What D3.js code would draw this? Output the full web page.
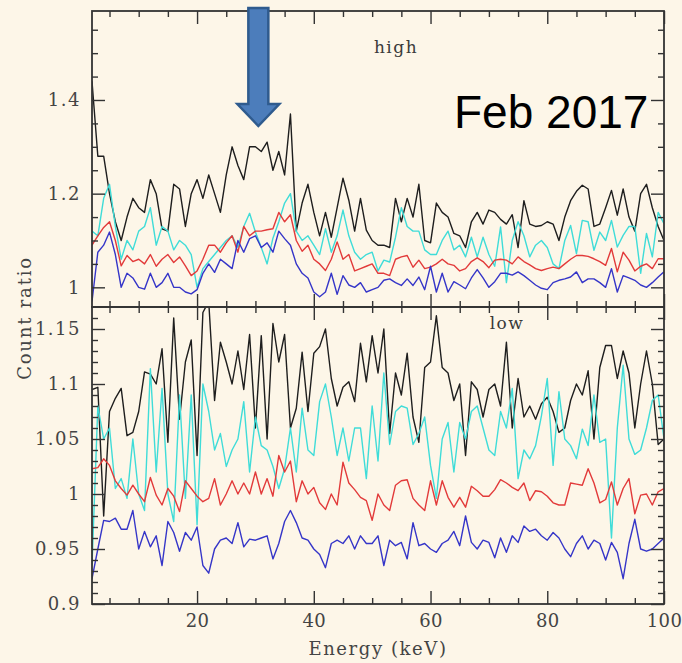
<!DOCTYPE html>
<html>
<head>
<meta charset="utf-8">
<script src="https://cdnjs.cloudflare.com/ajax/libs/d3/7.8.5/d3.min.js"></script>
<style>
  body { margin: 0; background: #fdf6e8; }
  svg { display: block; }
  .tick text { font-family: "DejaVu Serif", serif; font-size: 18px; fill: #444; letter-spacing: 1.5px; }
  .xlab .tick text { letter-spacing: 0.4px; }
  .tick line { stroke-width: 1.4; }
  .domain { display: none; }
</style>
</head>
<body>
<svg width="682" height="663"></svg>
<script>
// Energy grid (keV)
var energy = [2, 3, 4, 5, 6, 7, 8, 9, 10, 11, 12, 13, 14, 15, 16, 17, 18, 19, 20, 21,
    22, 23, 24, 25, 26, 27, 28, 29, 30, 31, 32, 33, 34, 35, 36, 37, 38, 39, 40, 41,
    42, 43, 44, 45, 46, 47, 48, 49, 50, 51, 52, 53, 54, 55, 56, 57, 58, 59, 60, 61,
    62, 63, 64, 65, 66, 67, 68, 69, 70, 71, 72, 73, 74, 75, 76, 77, 78, 79, 80, 81,
    82, 83, 84, 85, 86, 87, 88, 89, 90, 91, 92, 93, 94, 95, 96, 97, 98, 99, 100];

// "high" panel count ratios
var highBlack = [1.44, 1.28, 1.28, 1.20, 1.14, 1.10, 1.15, 1.19, 1.17, 1.16,
    1.23, 1.20, 1.125, 1.12, 1.22, 1.21, 1.13, 1.20, 1.23, 1.19,
    1.24, 1.20, 1.16, 1.24, 1.30, 1.26, 1.23, 1.30, 1.30, 1.29,
    1.31, 1.25, 1.29, 1.24, 1.37, 1.12, 1.18, 1.22, 1.16, 1.11,
    1.16, 1.107, 1.17, 1.233, 1.186, 1.12, 1.19, 1.122, 1.10, 1.09,
    1.09, 1.085, 1.19, 1.14, 1.19, 1.15, 1.22, 1.10, 1.095, 1.18,
    1.16, 1.15, 1.115, 1.11, 1.085, 1.14, 1.16, 1.135, 1.165, 1.16,
    1.145, 1.135, 1.155, 1.085, 1.185, 1.135, 1.13, 1.132, 1.14, 1.135,
    1.10, 1.15, 1.185, 1.205, 1.218, 1.21, 1.13, 1.135, 1.17, 1.207,
    1.154, 1.21, 1.15, 1.12, 1.20, 1.22, 1.17, 1.13, 1.10];
var highCyan = [1.12, 1.11, 1.19, 1.22, 1.13, 1.06, 1.10, 1.08, 1.12, 1.13,
    1.17, 1.09, 1.13, 1.12, 1.08, 1.10, 1.09, 1.07, 1.00, 1.04,
    1.055, 1.07, 1.085, 1.10, 1.11, 1.085, 1.13, 1.158, 1.118, 1.085,
    1.05, 1.105, 1.14, 1.18, 1.20, 1.12, 1.10, 1.11, 1.09, 1.07,
    1.125, 1.075, 1.11, 1.165, 1.11, 1.075, 1.06, 1.07, 1.075, 1.035,
    1.058, 1.054, 1.107, 1.17, 1.13, 1.12, 1.12, 1.08, 1.07, 1.07,
    1.10, 1.12, 1.08, 1.09, 1.065, 1.107, 1.065, 1.107, 1.07, 1.045,
    1.129, 1.01, 1.10, 1.14, 1.11, 1.065, 1.09, 1.10, 1.085, 1.05,
    1.04, 1.10, 1.132, 1.072, 1.143, 1.14, 1.079, 1.118, 1.10, 1.143,
    1.086, 1.111, 1.13, 1.13, 1.03, 1.115, 1.065, 1.16, 1.136];
var highRed = [1.09, 1.11, 1.128, 1.14, 1.10, 1.046, 1.068, 1.055, 1.06, 1.05,
    1.07, 1.045, 1.06, 1.07, 1.053, 1.065, 1.046, 1.025, 1.035, 1.06,
    1.09, 1.09, 1.075, 1.095, 1.11, 1.075, 1.13, 1.11, 1.12, 1.12,
    1.123, 1.125, 1.16, 1.14, 1.155, 1.10, 1.077, 1.09, 1.06, 1.05,
    1.036, 1.06, 1.097, 1.06, 1.07, 1.035, 1.04, 1.045, 1.05, 1.03,
    1.03, 1.025, 1.06, 1.065, 1.068, 1.043, 1.058, 1.04, 1.043, 1.05,
    1.06, 1.05, 1.047, 1.035, 1.04, 1.055, 1.063, 1.055, 1.042, 1.058,
    1.06, 1.058, 1.05, 1.065, 1.055, 1.048, 1.04, 1.036, 1.04, 1.043,
    1.04, 1.05, 1.06, 1.068, 1.068, 1.066, 1.061, 1.055, 1.047, 1.083,
    1.033, 1.075, 1.058, 1.035, 1.045, 1.05, 1.04, 1.061, 1.061];
var highBlue = [0.97, 1.075, 1.09, 1.118, 1.07, 1.00, 1.03, 1.02, 1.00, 0.996,
    1.03, 1.00, 1.01, 1.03, 1.00, 1.00, 0.99, 0.986, 0.995, 1.03,
    1.05, 1.032, 1.06, 1.05, 1.04, 1.10, 1.075, 1.104, 1.11, 1.085,
    1.095, 1.075, 1.12, 1.104, 1.09, 1.05, 1.03, 1.02, 0.99, 0.98,
    0.99, 1.03, 0.985, 1.025, 1.005, 1.00, 1.01, 0.99, 0.995, 1.00,
    1.015, 1.018, 1.01, 1.004, 1.018, 1.004, 1.022, 0.995, 1.045, 0.99,
    1.03, 0.99, 1.012, 1.005, 0.997, 1.02, 1.038, 1.02, 1.00, 1.012,
    1.03, 1.03, 1.026, 1.033, 1.025, 1.015, 1.005, 0.998, 0.995, 1.01,
    1.015, 1.018, 1.022, 1.033, 1.01, 1.018, 1.018, 1.01, 1.00, 1.04,
    0.99, 1.025, 1.02, 1.015, 1.005, 1.00, 1.01, 1.022, 1.033];

// "low" panel count ratios
var lowBlack = [1.095, 1.097, 0.98, 1.075, 1.087, 1.096, 1.053, 1.056, 1.075, 1.111,
    1.109, 1.10, 1.132, 1.047, 1.16, 1.068, 1.12, 1.14, 1.035, 1.165,
    1.175, 1.085, 1.138, 1.12, 1.10, 1.13, 1.095, 1.145, 1.06, 1.144,
    1.05, 1.155, 1.12, 1.145, 1.06, 1.078, 1.129, 1.075, 1.128, 1.134,
    1.15, 1.105, 1.08, 1.097, 1.102, 1.084, 1.137, 1.102, 1.144, 1.11,
    1.15, 1.055, 1.11, 1.09, 1.128, 1.07, 1.047, 1.115, 1.12, 1.162,
    1.115, 1.11, 1.085, 1.10, 1.035, 1.102, 1.095, 1.07, 1.095, 1.10,
    1.08, 1.138, 1.06, 1.105, 1.07, 1.08, 1.068, 1.082, 1.088, 1.075,
    1.056, 1.06, 1.085, 1.10, 1.09, 1.112, 1.05, 1.115, 1.135, 1.135,
    1.105, 1.13, 1.11, 1.06, 1.10, 1.13, 1.10, 1.045, 1.05];
var lowCyan = [0.935, 1.08, 1.05, 1.06, 1.005, 1.014, 0.996, 1.05, 1.00, 0.985,
    1.114, 1.02, 1.096, 1.00, 0.975, 1.09, 0.996, 1.09, 0.972, 1.10,
    1.075, 1.04, 1.055, 1.025, 1.04, 1.05, 1.084, 1.02, 1.07, 1.044,
    1.04, 1.025, 1.005, 1.023, 1.06, 1.02, 1.078, 1.04, 1.035, 1.084,
    1.10, 1.07, 1.035, 1.06, 1.03, 1.06, 1.06, 1.014, 1.08, 1.03,
    1.11, 1.045, 1.075, 1.08, 1.078, 1.045, 1.055, 1.07, 1.026, 0.996,
    1.05, 1.065, 1.02, 1.065, 1.05, 1.075, 1.08, 1.06, 1.04, 1.035,
    1.075, 1.06, 1.096, 1.014, 1.04, 1.032, 1.044, 1.071, 1.105, 1.026,
    1.093, 1.05, 1.044, 1.032, 1.059, 1.044, 1.09, 1.047, 1.05, 0.96,
    1.06, 1.117, 1.05, 1.036, 1.04, 1.06, 1.085, 1.09, 1.05];
var lowRed = [1.023, 1.024, 1.032, 1.026, 1.012, 1.005, 0.999, 1.008, 1.00, 0.993,
    1.015, 0.999, 0.99, 1.005, 0.998, 0.984, 1.012, 1.005, 0.998, 0.993,
    0.996, 1.014, 0.99, 1.00, 1.012, 1.00, 1.01, 1.00, 1.02, 1.00,
    1.014, 0.998, 1.035, 1.02, 1.03, 0.993, 1.012, 1.00, 1.006, 0.992,
    0.986, 1.00, 0.99, 1.029, 1.01, 1.004, 0.997, 0.994, 0.976, 1.00,
    0.99, 0.985, 1.008, 1.012, 1.013, 0.996, 0.99, 0.985, 1.012, 0.99,
    1.012, 0.997, 0.988, 0.997, 0.988, 1.007, 1.003, 0.998, 0.998, 1.004,
    1.013, 1.01, 1.006, 1.003, 1.01, 0.994, 1.003, 1.002, 0.998, 0.992,
    0.99, 0.99, 1.01, 1.009, 1.008, 1.023, 1.01, 0.992, 0.995, 1.011,
    0.99, 1.005, 1.014, 0.982, 0.999, 1.00, 0.99, 1.002, 1.005];
var lowBlue = [0.923, 0.95, 0.976, 0.975, 0.978, 0.968, 0.968, 0.985, 0.95, 0.966,
    0.952, 0.962, 0.935, 0.975, 0.965, 0.948, 0.965, 0.958, 0.97, 0.935,
    0.928, 0.95, 0.958, 0.96, 0.955, 0.974, 0.952, 0.959, 0.958, 0.96,
    0.962, 0.941, 0.955, 0.975, 0.985, 0.974, 0.96, 0.958, 0.95, 0.945,
    0.933, 0.955, 0.958, 0.955, 0.962, 0.95, 0.962, 0.955, 0.955, 0.962,
    0.935, 0.958, 0.953, 0.956, 0.941, 0.974, 0.953, 0.955, 0.95, 0.947,
    0.955, 0.958, 0.966, 0.953, 0.98, 0.956, 0.95, 0.958, 0.956, 0.942,
    0.96, 0.947, 0.962, 0.956, 0.971, 0.966, 0.968, 0.962, 0.958, 0.965,
    0.96, 0.95, 0.943, 0.955, 0.962, 0.95, 0.958, 0.955, 0.94, 0.956,
    0.947, 0.923, 0.955, 0.977, 0.95, 0.948, 0.95, 0.955, 0.96];

// Tick values
var xMajor = [20, 40, 60, 80, 100];
var xMinor = [5, 10, 15, 25, 30, 35, 45, 50, 55, 65, 70, 75, 85, 90, 95];
var highMajor = [1, 1.2, 1.4];
var highMinor = [1.05, 1.1, 1.15, 1.25, 1.3, 1.35, 1.45, 1.5, 1.55];
var lowMajor = [0.9, 0.95, 1, 1.05, 1.1, 1.15];
var lowMinor = [0.91, 0.92, 0.93, 0.94, 0.96, 0.97, 0.98, 0.99, 1.01, 1.02, 1.03, 1.04,
    1.06, 1.07, 1.08, 1.09, 1.11, 1.12, 1.13, 1.14, 1.16];

var seriesColors = ["#1e1e1e", "#3fdcd8", "#e23a3a", "#3535c8"];

var svg = d3.select("svg"),
    width = +svg.attr("width"),
    height = +svg.attr("height");

svg.append("rect").attr("width", width).attr("height", height).attr("fill", "#fdf6e8");

// frame edges (px)
var plotLeft = 92, plotRight = 664, plotTop = 11, plotMid = 307, plotBottom = 604;

// Scales
var x = d3.scaleLinear().domain([2, 100]).range([plotLeft, plotRight]);
var yHigh = d3.scaleLinear().domain([0.958, 1.59]).range([plotMid, plotTop]);
var yLow = d3.scaleLinear().domain([0.9, 1.17]).range([plotBottom, plotMid]);

var noLabel = function () { return ""; };
var plain = function (d) { return d; };

function addAxis(axis, vals, size, pos, fmt, pad) {
    return svg.append("g")
        .attr("transform", pos)
        .attr("color", "#333")
        .call(axis.tickValues(vals).tickSize(-size).tickPadding(pad || 10).tickFormat(fmt || noLabel));
}

function panel(name, y, series, yMajor, yMinor, y0, y1, xLabels) {
    // clip lines to the panel
    svg.append("clipPath").attr("id", "clip-" + name)
        .append("rect").attr("x", plotLeft).attr("y", y0).attr("width", plotRight - plotLeft).attr("height", y1 - y0);

    var line = d3.line()
        .x(function (d, i) { return x(energy[i]); })
        .y(function (d) { return y(d); });

    svg.append("g").attr("clip-path", "url(#clip-" + name + ")")
        .selectAll("path")
        .data(series)
        .enter()
        .append("path")
        .attr("d", line)
        .attr("fill", "none")
        .attr("stroke", function (d, i) { return seriesColors[i]; })
        .attr("stroke-width", 1.4)
        .attr("stroke-linejoin", "round");

    // y axes, left and right
    addAxis(d3.axisLeft(y), yMajor, 13, "translate(" + plotLeft + ",0)", plain, 11);
    addAxis(d3.axisLeft(y), yMinor, 6, "translate(" + plotLeft + ",0)");
    addAxis(d3.axisRight(y), yMajor, 13, "translate(" + plotRight + ",0)");
    addAxis(d3.axisRight(y), yMinor, 6, "translate(" + plotRight + ",0)");

    // x axes, top and bottom
    addAxis(d3.axisTop(x), xMajor, 13, "translate(0," + y0 + ")");
    addAxis(d3.axisTop(x), xMinor, 6, "translate(0," + y0 + ")");
    addAxis(d3.axisBottom(x), xMajor, 13, "translate(0," + y1 + ")", xLabels ? plain : null, 10)
        .attr("class", "xlab");
    addAxis(d3.axisBottom(x), xMinor, 6, "translate(0," + y1 + ")");

    svg.append("rect")
        .attr("x", plotLeft).attr("y", y0)
        .attr("width", plotRight - plotLeft).attr("height", y1 - y0)
        .attr("fill", "none").attr("stroke", "#333").attr("stroke-width", 1.8);
}

panel("high", yHigh, [highBlack, highCyan, highRed, highBlue], highMajor, highMinor, plotTop, plotMid, false);
panel("low", yLow, [lowBlack, lowCyan, lowRed, lowBlue], lowMajor, lowMinor, plotMid, plotBottom, true);

// Titles and labels
var serif = '"DejaVu Serif", serif';

svg.append("text").text("high")
    .attr("x", 396).attr("y", 53).attr("text-anchor", "middle")
    .style("font-family", serif).style("font-size", "17px").style("letter-spacing", "1.5px").attr("fill", "#3a3a3a");

svg.append("text").text("low")
    .attr("x", 507).attr("y", 329).attr("text-anchor", "middle")
    .style("font-family", serif).style("font-size", "17px").style("letter-spacing", "1.5px").attr("fill", "#3a3a3a");

svg.append("text").text("Energy (keV)")
    .attr("x", (plotLeft + plotRight) / 2).attr("y", 655).attr("text-anchor", "middle")
    .style("font-family", serif).style("font-size", "18px").style("letter-spacing", "1.6px").attr("fill", "#444");

svg.append("text").text("Count ratio")
    .attr("transform", "translate(31,318) rotate(-90)").attr("text-anchor", "middle")
    .style("font-family", serif).style("font-size", "18px").style("letter-spacing", "1.8px").attr("fill", "#444");

svg.append("text").text("Feb 2017")
    .attr("x", 454).attr("y", 128)
    .style("font-family", '"Liberation Sans", Arial, sans-serif').style("font-size", "46px").attr("fill", "#000");

// Arrow pointing at the bump near 30 keV
var tipX = x(30.5), tipY = 126;
var arrow = [[tipX - 10, 8], [tipX + 10, 8], [tipX + 10, 104], [tipX + 21, 104],
    [tipX, tipY], [tipX - 21, 104], [tipX - 10, 104]];

svg.append("path")
    .attr("d", d3.line()(arrow) + "Z")
    .attr("fill", "#4c7dbb")
    .attr("stroke", "#2f5b8e")
    .attr("stroke-width", 2.5)
    .attr("stroke-linejoin", "miter");
</script>
</body>
</html>
